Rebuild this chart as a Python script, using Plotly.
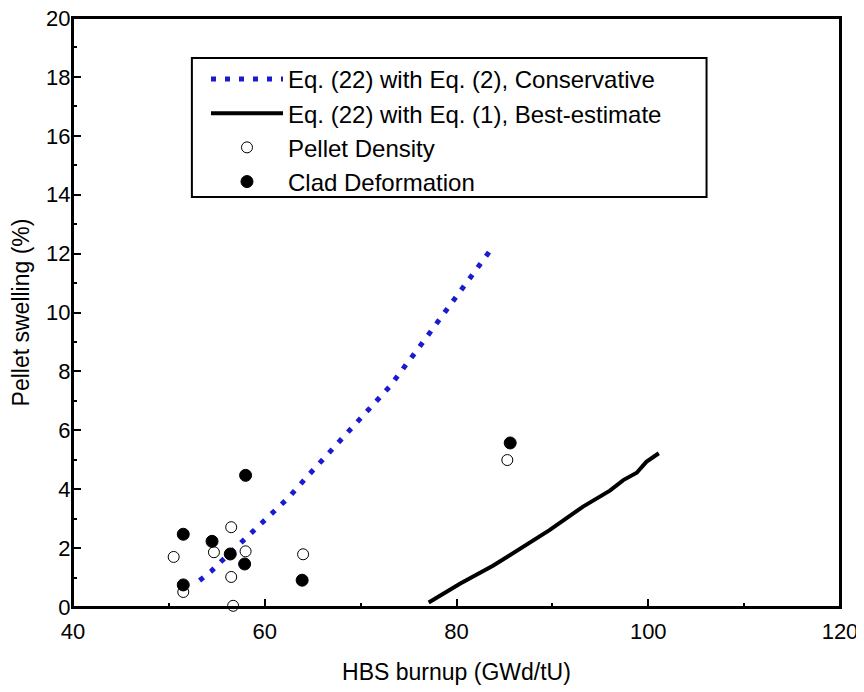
import plotly.graph_objects as go

# ---------------------------------------------------
# data
# ---------------------------------------------------
# Eq. (22) with Eq. (2), Conservative (blue dotted)
cons_x = [53.2, 54.4, 55.5, 57.9, 60.2, 62.5, 64.6, 66.7, 67.8, 73.1, 76.6, 80.1, 83.5]
cons_y = [0.90, 1.21, 1.56, 2.29, 2.99, 3.72, 4.49, 5.25, 5.63, 7.51, 9.04, 10.56, 12.10]

# Eq. (22) with Eq. (1), Best-estimate (black solid)
best_x = [77.1, 80.4, 83.8, 86.6, 89.7, 93.2, 96.0, 97.4, 98.8, 99.8, 101.1]
best_y = [0.15, 0.80, 1.40, 1.99, 2.61, 3.41, 3.95, 4.31, 4.56, 4.93, 5.22]

# Pellet Density (open circles)
dens_x = [50.5, 51.5, 54.7, 56.5, 56.5, 56.7, 58.0, 64.0, 85.3]
dens_y = [1.70, 0.51, 1.86, 2.71, 1.02, 0.04, 1.89, 1.79, 4.99]

# Clad Deformation (filled circles)
clad_x = [51.5, 51.5, 54.5, 56.4, 57.9, 58.0, 63.9, 85.6]
clad_y = [2.47, 0.75, 2.23, 1.80, 1.46, 4.47, 0.91, 5.57]

FONT = "Arial, Liberation Sans, sans-serif"

fig = go.Figure()

fig.add_trace(
    go.Scatter(
        x=cons_x,
        y=cons_y,
        mode="lines",
        name="Eq. (22) with Eq. (2), Conservative",
        line=dict(color="#1a1acf", width=5, dash="5px,9px"),
    )
)
fig.add_trace(
    go.Scatter(
        x=best_x,
        y=best_y,
        mode="lines",
        name="Eq. (22) with Eq. (1), Best-estimate",
        line=dict(color="black", width=4),
    )
)
fig.add_trace(
    go.Scatter(
        x=dens_x,
        y=dens_y,
        mode="markers",
        name="Pellet Density",
        marker=dict(symbol="circle", size=11, color="white", line=dict(color="black", width=1)),
        cliponaxis=False,
    )
)
fig.add_trace(
    go.Scatter(
        x=clad_x,
        y=clad_y,
        mode="markers",
        name="Clad Deformation",
        marker=dict(symbol="circle", size=12, color="black", line=dict(color="black", width=1)),
        cliponaxis=False,
    )
)

# legend frame (drawn separately so its size matches the original)
fig.add_shape(
    type="rect",
    xref="paper",
    yref="paper",
    x0=0.155,
    x1=0.826,
    y0=0.696,
    y1=0.932,
    line=dict(color="black", width=2),
    fillcolor="rgba(0,0,0,0)",
)
# plot frame
fig.add_shape(
    type="rect",
    xref="paper",
    yref="paper",
    x0=0,
    x1=1,
    y0=0,
    y1=1,
    line=dict(color="black", width=2),
    fillcolor="rgba(0,0,0,0)",
    layer="above",
)

# the page body has an 8px margin, so the figure is 8px smaller than the window
fig.update_layout(
    width=856,
    height=684,
    margin=dict(l=65, r=24, t=10, b=85),
    paper_bgcolor="white",
    plot_bgcolor="white",
    font=dict(family=FONT, size=22, color="black"),
    showlegend=True,
    legend=dict(
        x=0.1734,
        y=0.934,
        xanchor="left",
        yanchor="top",
        bgcolor="rgba(0,0,0,0)",
        borderwidth=0,
        font=dict(family=FONT, size=24, color="black"),
        itemwidth=72,
        tracegroupgap=0,
    ),
)

fig.update_xaxes(
    range=[40, 120],
    dtick=20,
    automargin=False,
    showgrid=False,
    zeroline=False,
    showline=True,
    linecolor="black",
    linewidth=2,
    mirror=True,
    ticks="inside",
    ticklen=8,
    tickwidth=2,
    tickcolor="black",
    ticklabelstandoff=4,
    ticklabeloverflow="allow",
    minor=dict(dtick=10, ticks="inside", ticklen=4, tickwidth=2, tickcolor="black"),
    title=dict(text="HBS burnup (GWd/tU)", font=dict(family=FONT, size=23), standoff=20),
)
fig.update_yaxes(
    range=[0, 20],
    dtick=2,
    automargin=False,
    showgrid=False,
    zeroline=False,
    showline=True,
    linecolor="black",
    linewidth=2,
    mirror=True,
    ticks="inside",
    ticklen=8,
    tickwidth=2,
    tickcolor="black",
    ticklabelstandoff=-4,
    ticklabeloverflow="allow",
    minor=dict(dtick=1, ticks="inside", ticklen=4, tickwidth=2, tickcolor="black"),
    title=dict(text="Pellet swelling (%)", font=dict(family=FONT, size=23), standoff=10),
)

fig.write_html("out.html")
